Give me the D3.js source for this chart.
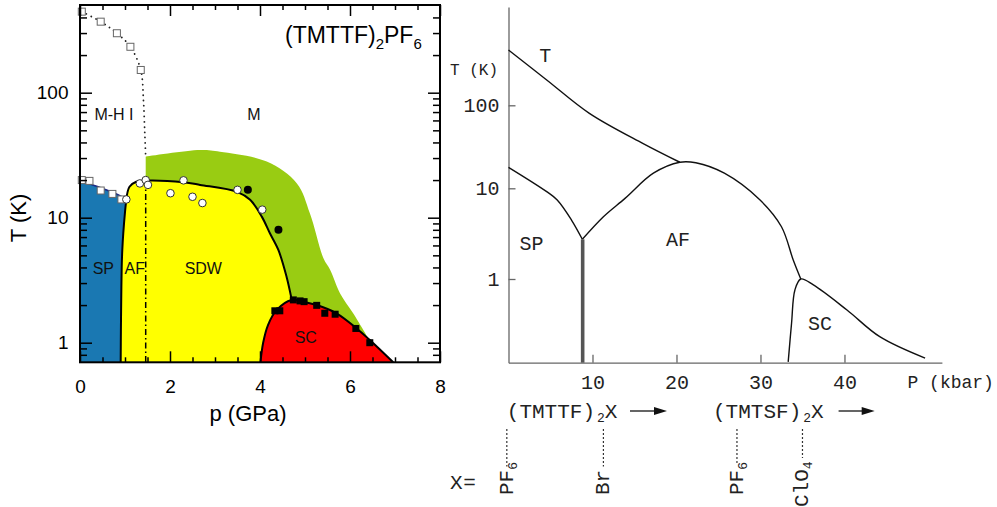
<!DOCTYPE html>
<html><head><meta charset="utf-8">
<script src="https://cdn.jsdelivr.net/npm/d3@7"></script>
<style>
html,body{margin:0;padding:0;background:#fff;}
svg{display:block;}
</style></head>
<body>
<svg id="chart" width="997" height="507"></svg>
<script>
// ===== Left panel: (TMTTF)2PF6, p (GPa) vs T (K) =====
const leftXTicksMajor = [0, 2, 4, 6, 8];
const leftXTicksMinor = [0.5, 1, 1.5, 2.5, 3, 3.5, 4.5, 5, 5.5, 6.5, 7, 7.5];
const leftYTicksMajor = [1, 10, 100];
const leftYTicksMinor = [0.8, 0.9, 2, 3, 4, 5, 6, 7, 8, 9, 20, 30, 40, 50, 60, 70, 80, 90, 200, 300, 400];

const spTopLine = [[0, 20], [0.02, 19.8], [0.4, 17.7], [0.7, 16.1], [0.99, 14.3], [1.03, 14.0]];
const spAfBoundary = [[1.03, 14.0], [1.0, 11.1], [0.962, 7.54], [0.94, 5.51], [0.927, 4.06], [0.916, 2.2], [0.909, 1.26], [0.904, 0.697]];
const sdwTop = [[1.03, 14.0], [1.10, 17.7], [1.25, 19.4], [1.51, 19.8], [2.30, 19.2], [2.67, 18.3], [3.49, 16.1], [3.78, 13.9], [4.04, 10.2], [4.22, 7.5], [4.41, 5.5], [4.59, 3.37], [4.70, 2.25]];
const scDome = [[4.01, 0.697], [4.07, 1.0], [4.18, 1.39], [4.37, 1.83], [4.70, 2.2], [4.96, 2.13], [5.26, 2.0], [5.70, 1.72], [6.15, 1.30], [6.44, 1.05], [6.96, 0.697]];
const metalEdge = [[1.46, 30.8], [2.67, 34.8], [3.11, 33.7], [4.15, 28.1], [4.82, 18.8], [5.11, 10.8], [5.41, 4.73], [5.56, 3.82], [5.78, 2.48], [6.07, 1.72], [6.41, 1.08]];
const mhiLine = [[0.04, 445], [0.46, 370], [0.82, 299], [1.12, 233], [1.35, 152], [1.41, 87], [1.44, 47], [1.46, 30.8]];
const crossoverP = 1.46;
const crossoverTop = 19.8;
const openSquares = [[0.04, 445], [0.46, 370], [0.82, 299], [1.12, 233], [1.35, 152], [0.04, 20], [0.21, 19.7], [0.46, 16.5], [0.72, 15.5], [0.92, 14.0]];
const openCircles = [[1.03, 14.0], [1.33, 18.8], [1.46, 20.0], [1.51, 18.3], [2.01, 15.7], [2.30, 19.9], [2.50, 14.7], [2.72, 13.1], [3.50, 16.7], [4.05, 11.6]];
const filledCircles = [[3.73, 16.7], [4.41, 8.0]];
const filledSquares = [[4.33, 1.80], [4.44, 1.80], [4.74, 2.20], [4.89, 2.16], [4.98, 2.13], [5.26, 1.99], [5.44, 1.72], [5.67, 1.69], [6.13, 1.30], [6.44, 1.0]];

// ===== Right panel: generic phase diagram, P (kbar) vs T (K) =====
const rightPTicks = [10, 20, 30, 40];
const rightTTicks = [1, 10, 100];
const tLine = [[0, 463], [4.55, 202], [9.63, 80], [15.98, 34.8], [20.4, 20.6]];
const spLine = [[0, 17.9], [4.55, 9.18], [5.8, 7.43], [7.5, 4.47], [8.79, 2.74]];
const afDome = [[8.79, 2.74], [11.3, 4.86], [13.87, 7.74], [17.25, 15.2], [20.4, 20.6], [22.3, 20.3], [25.7, 15.2], [29.95, 7.43], [32.5, 3.77], [33.9, 1.62], [34.8, 1.0]];
const scLine = [[33.3, 0.122], [33.7, 0.325], [34.1, 0.757], [34.8, 1.0], [36.3, 0.86], [40.3, 0.455], [44.2, 0.231], [49.6, 0.134]];
const brBoundaryP = 8.83;
const anionNames = ["PF", "Br", "PF", "ClO"];
const anionSubs = ["6", "", "6", "4"];
const anionP = [-0.2, 11.3, 27.2, 35.0];
const familyNames = ["(TMTTF)", "(TMTSF)"];
const familyStartP = [-0.2, 24.35];
const familyArrowP = [[14.46, 18.87], [39.3, 43.6]];

const svg = d3.select('#chart');

// ---------- LEFT ----------
const xL = d3.scaleLinear().domain([0, 8]).range([80, 440]);
const yL = d3.scaleLog().domain([0.697, 503]).range([362.3, 5]);
const curveL = d3.line().x(d => xL(d[0])).y(d => yL(d[1])).curve(d3.curveCatmullRom.alpha(0.5));
const straightL = d3.line().x(d => xL(d[0])).y(d => yL(d[1]));
function region(segs) {
  return segs.map((s, i) => {
    let p = (s.straight ? straightL : curveL)(s.pts);
    return i ? p.replace(/^M/, 'L') : p;
  }).join('') + 'Z';
}
const gL = svg.append('g').attr('font-family', '"Liberation Sans", Arial, Helvetica, sans-serif');
const defs = svg.append('defs');
defs.append('clipPath').attr('id', 'clipL').append('rect')
  .attr('x', xL(0)).attr('y', yL(503)).attr('width', xL(8) - xL(0)).attr('height', yL(0.697) - yL(503));
const fills = gL.append('g').attr('clip-path', 'url(#clipL)');

// green (metallic, pressure-dependent)
fills.append('path').attr('fill', '#99cc12').attr('d', region([
  { pts: metalEdge },
  { straight: true, pts: [metalEdge[metalEdge.length - 1], [6.0, 0.697], [crossoverP, 0.697], [crossoverP, 30.8]] }
]));
// yellow SDW / AF
fills.append('path').attr('fill', '#ffff00').attr('d', region([
  { pts: spAfBoundary.slice().reverse() },
  { pts: sdwTop },
  { pts: scDome.slice(0, 5).reverse() },
  { straight: true, pts: [scDome[0], spAfBoundary[spAfBoundary.length - 1]] }
]));
// red SC
fills.append('path').attr('fill', '#ff0000').attr('d', region([
  { pts: scDome },
  { straight: true, pts: [scDome[scDome.length - 1], scDome[0]] }
]));
// blue SP
fills.append('path').attr('fill', '#1a78b2').attr('d', region([
  { straight: true, pts: [[0, 0.697], [0, 20]] },
  { pts: spTopLine },
  { pts: spAfBoundary }
]));

// phase labels (under lines)
const phaseLabelsL = [["M-H I", 114, 119.5], ["M", 254, 119.5], ["SP", 103.3, 273.5], ["AF", 134.7, 273.5], ["SDW", 203.3, 273.5], ["SC", 305.8, 343]];
gL.selectAll('text.ph').data(phaseLabelsL).join('text').attr('class', 'ph')
  .attr('x', d => d[1]).attr('y', d => d[2]).attr('text-anchor', 'middle')
  .attr('font-size', 16).attr('fill', '#111').text(d => d[0]);

// boundary lines
gL.append('path').attr('d', curveL(spTopLine)).attr('fill', 'none').attr('stroke', '#1e2b86').attr('stroke-width', 1.6);
[spAfBoundary, sdwTop, scDome].forEach(pts => {
  gL.append('path').attr('d', curveL(pts)).attr('fill', 'none').attr('stroke', '#000').attr('stroke-width', 2).attr('clip-path', 'url(#clipL)');
});
gL.append('path').attr('d', curveL(mhiLine)).attr('fill', 'none').attr('stroke', '#222')
  .attr('stroke-width', 1.8).attr('stroke-linecap', 'round').attr('stroke-dasharray', '0.1,5.2');
gL.append('line').attr('x1', xL(crossoverP)).attr('x2', xL(crossoverP))
  .attr('y1', yL(crossoverTop)).attr('y2', yL(0.697))
  .attr('stroke', '#000').attr('stroke-width', 1.5).attr('stroke-dasharray', '6,3,1.5,3');

// markers
gL.selectAll('rect.os').data(openSquares).join('rect').attr('class', 'os')
  .attr('x', d => xL(d[0]) - 3.5).attr('y', d => yL(d[1]) - 3.5).attr('width', 7).attr('height', 7)
  .attr('fill', '#fff').attr('stroke', '#666').attr('stroke-width', 1);
gL.selectAll('circle.oc').data(openCircles).join('circle').attr('class', 'oc')
  .attr('cx', d => xL(d[0])).attr('cy', d => yL(d[1])).attr('r', 3.8)
  .attr('fill', '#fff').attr('stroke', '#333').attr('stroke-width', 1);
gL.selectAll('circle.fc').data(filledCircles).join('circle').attr('class', 'fc')
  .attr('cx', d => xL(d[0])).attr('cy', d => yL(d[1])).attr('r', 4).attr('fill', '#000');
gL.selectAll('rect.fs').data(filledSquares).join('rect').attr('class', 'fs')
  .attr('x', d => xL(d[0]) - 3.5).attr('y', d => yL(d[1]) - 3.5).attr('width', 7).attr('height', 7).attr('fill', '#000');

// axes (inward ticks on all four sides)
function styleAxis(g, labels) {
  g.select('.domain').remove();
  g.selectAll('line').attr('stroke', '#000').attr('stroke-width', 1.5);
  g.attr('font-family', '"Liberation Sans", Arial, Helvetica, sans-serif').attr('font-size', 19);
  if (!labels) g.selectAll('text').remove();
  else g.selectAll('text').attr('fill', '#000');
}
const yB = yL.range()[0], yT = yL.range()[1], xLe = xL.range()[0], xRi = xL.range()[1];
gL.append('g').attr('transform', `translate(0,${yB})`)
  .call(d3.axisBottom(xL).tickValues(leftXTicksMinor).tickSizeInner(-5).tickSizeOuter(0)).call(g => styleAxis(g, false));
gL.append('g').attr('transform', `translate(0,${yB})`)
  .call(d3.axisBottom(xL).tickValues(leftXTicksMajor).tickSizeInner(-11).tickSizeOuter(0).tickPadding(17.5).tickFormat(d3.format('d')))
  .call(g => styleAxis(g, true));
gL.append('g').attr('transform', `translate(0,${yT})`)
  .call(d3.axisTop(xL).tickValues(leftXTicksMinor).tickSizeInner(-5).tickSizeOuter(0)).call(g => styleAxis(g, false));
gL.append('g').attr('transform', `translate(0,${yT})`)
  .call(d3.axisTop(xL).tickValues(leftXTicksMajor).tickSizeInner(-11).tickSizeOuter(0)).call(g => styleAxis(g, false));
gL.append('g').attr('transform', `translate(${xLe},0)`)
  .call(d3.axisLeft(yL).tickValues(leftYTicksMinor).tickSizeInner(-7).tickSizeOuter(0)).call(g => styleAxis(g, false));
gL.append('g').attr('transform', `translate(${xLe},0)`)
  .call(d3.axisLeft(yL).tickValues(leftYTicksMajor).tickSizeInner(-12).tickSizeOuter(0).tickPadding(11.5).tickFormat(d3.format('d')))
  .call(g => styleAxis(g, true));
gL.append('g').attr('transform', `translate(${xRi},0)`)
  .call(d3.axisRight(yL).tickValues(leftYTicksMinor).tickSizeInner(-7).tickSizeOuter(0)).call(g => styleAxis(g, false));
gL.append('g').attr('transform', `translate(${xRi},0)`)
  .call(d3.axisRight(yL).tickValues(leftYTicksMajor).tickSizeInner(-12).tickSizeOuter(0)).call(g => styleAxis(g, false));
gL.append('rect').attr('x', xLe).attr('y', yT).attr('width', xRi - xLe).attr('height', yB - yT)
  .attr('fill', 'none').attr('stroke', '#000').attr('stroke-width', 2);

// titles
const title = gL.append('text').attr('x', 285).attr('y', 43).attr('font-size', 23).attr('fill', '#000');
title.append('tspan').text('(TMTTF)');
title.append('tspan').attr('font-size', 15).attr('dy', 6).text('2');
title.append('tspan').attr('dy', -6).text('PF');
title.append('tspan').attr('font-size', 15).attr('dy', 6).text('6');
gL.append('text').attr('transform', 'translate(26,218) rotate(-90)').attr('text-anchor', 'middle')
  .attr('font-size', 22).attr('fill', '#000').text('T (K)');
gL.append('text').attr('x', 248).attr('y', 421).attr('text-anchor', 'middle')
  .attr('font-size', 22).attr('fill', '#000').text('p (GPa)');

// ---------- RIGHT ----------
const mono = '"Liberation Mono", "Courier New", Courier, monospace';
const xR = d3.scaleLinear().domain([0, 51.6]).range([508.5, 941.9]);
const yR = d3.scaleLog().domain([0.1194, 1, 10, 100, 1528]).range([362.7, 279, 188.3, 105.3, 7]);
const curveR = d3.line().x(d => xR(d[0])).y(d => yR(d[1])).curve(d3.curveCatmullRom.alpha(0.5));
const gR = svg.append('g').attr('font-family', mono).attr('fill', '#222');

const axY = gR.append('g').attr('transform', `translate(${xR(0)},0)`)
  .call(d3.axisLeft(yR).tickValues(rightTTicks).tickSizeInner(-7).tickSizeOuter(0).tickPadding(9).tickFormat(d3.format('d')));
const axX = gR.append('g').attr('transform', `translate(0,${yR(0.1194)})`)
  .call(d3.axisBottom(xR).tickValues(rightPTicks).tickSizeInner(-8).tickSizeOuter(0).tickPadding(12).tickFormat(d3.format('d')));
[axY, axX].forEach(g => {
  g.attr('font-family', mono).attr('font-size', 20);
  g.selectAll('path,line').attr('stroke', '#666').attr('stroke-width', 1.3);
  g.selectAll('text').attr('fill', '#222');
});

[tLine, spLine, afDome, scLine].forEach(pts => {
  gR.append('path').attr('d', curveR(pts)).attr('fill', 'none').attr('stroke', '#111').attr('stroke-width', 1.4);
});
gR.append('line').attr('x1', xR(brBoundaryP)).attr('x2', xR(brBoundaryP))
  .attr('y1', yR(spLine[spLine.length - 1][1])).attr('y2', yR(0.1194))
  .attr('stroke', '#555').attr('stroke-width', 3.6);

const phaseLabelsR = [["T", 545.3, 62], ["SP", 531.5, 250], ["AF", 678, 246], ["SC", 820, 330]];
gR.selectAll('text.ph').data(phaseLabelsR).join('text').attr('class', 'ph')
  .attr('x', d => d[1]).attr('y', d => d[2]).attr('text-anchor', 'middle').attr('font-size', 20).text(d => d[0]);
gR.append('text').attr('x', 450).attr('y', 75).attr('font-size', 16).text('T (K)');
gR.append('text').attr('x', 907.5).attr('y', 388).attr('font-size', 18).text('P (kbar)');

// families + arrows
familyNames.forEach((nm, i) => {
  const t = gR.append('text').attr('x', xR(familyStartP[i])).attr('y', 418).attr('font-size', 21);
  t.append('tspan').text(nm);
  t.append('tspan').attr('font-size', 13).attr('dx', 2).attr('dy', 4).text('2');
  t.append('tspan').attr('dy', -4).text('X');
  const [a, b] = familyArrowP[i];
  const x1 = xR(a), x2 = xR(b), ya = 411;
  gR.append('line').attr('x1', x1).attr('x2', x2 - 8).attr('y1', ya).attr('y2', ya).attr('stroke', '#111').attr('stroke-width', 1.3);
  gR.append('path').attr('d', `M${x2},${ya}L${x2 - 13},${ya - 4}L${x2 - 13},${ya + 4}Z`).attr('fill', '#111');
});

// anion markers
const anionBottom = [495, 495, 495, 507];
const anionDashEnd = [466.5, 466.5, 465, 458];
anionNames.forEach((nm, i) => {
  const x = xR(anionP[i]);
  gR.append('line').attr('x1', x).attr('x2', x).attr('y1', 429).attr('y2', anionDashEnd[i])
    .attr('stroke', '#333').attr('stroke-width', 1.2).attr('stroke-dasharray', '2,2');
  const t = gR.append('text').attr('transform', `translate(${x + 6},${anionBottom[i]}) rotate(-90)`).attr('font-size', 21);
  t.append('tspan').text(nm);
  if (anionSubs[i]) t.append('tspan').attr('font-size', 13).attr('dy', 4).text(anionSubs[i]);
});
gR.append('text').attr('x', 450).attr('y', 489).attr('font-size', 21).attr('letter-spacing', '-6px').text('X =');
</script>
</body></html>
